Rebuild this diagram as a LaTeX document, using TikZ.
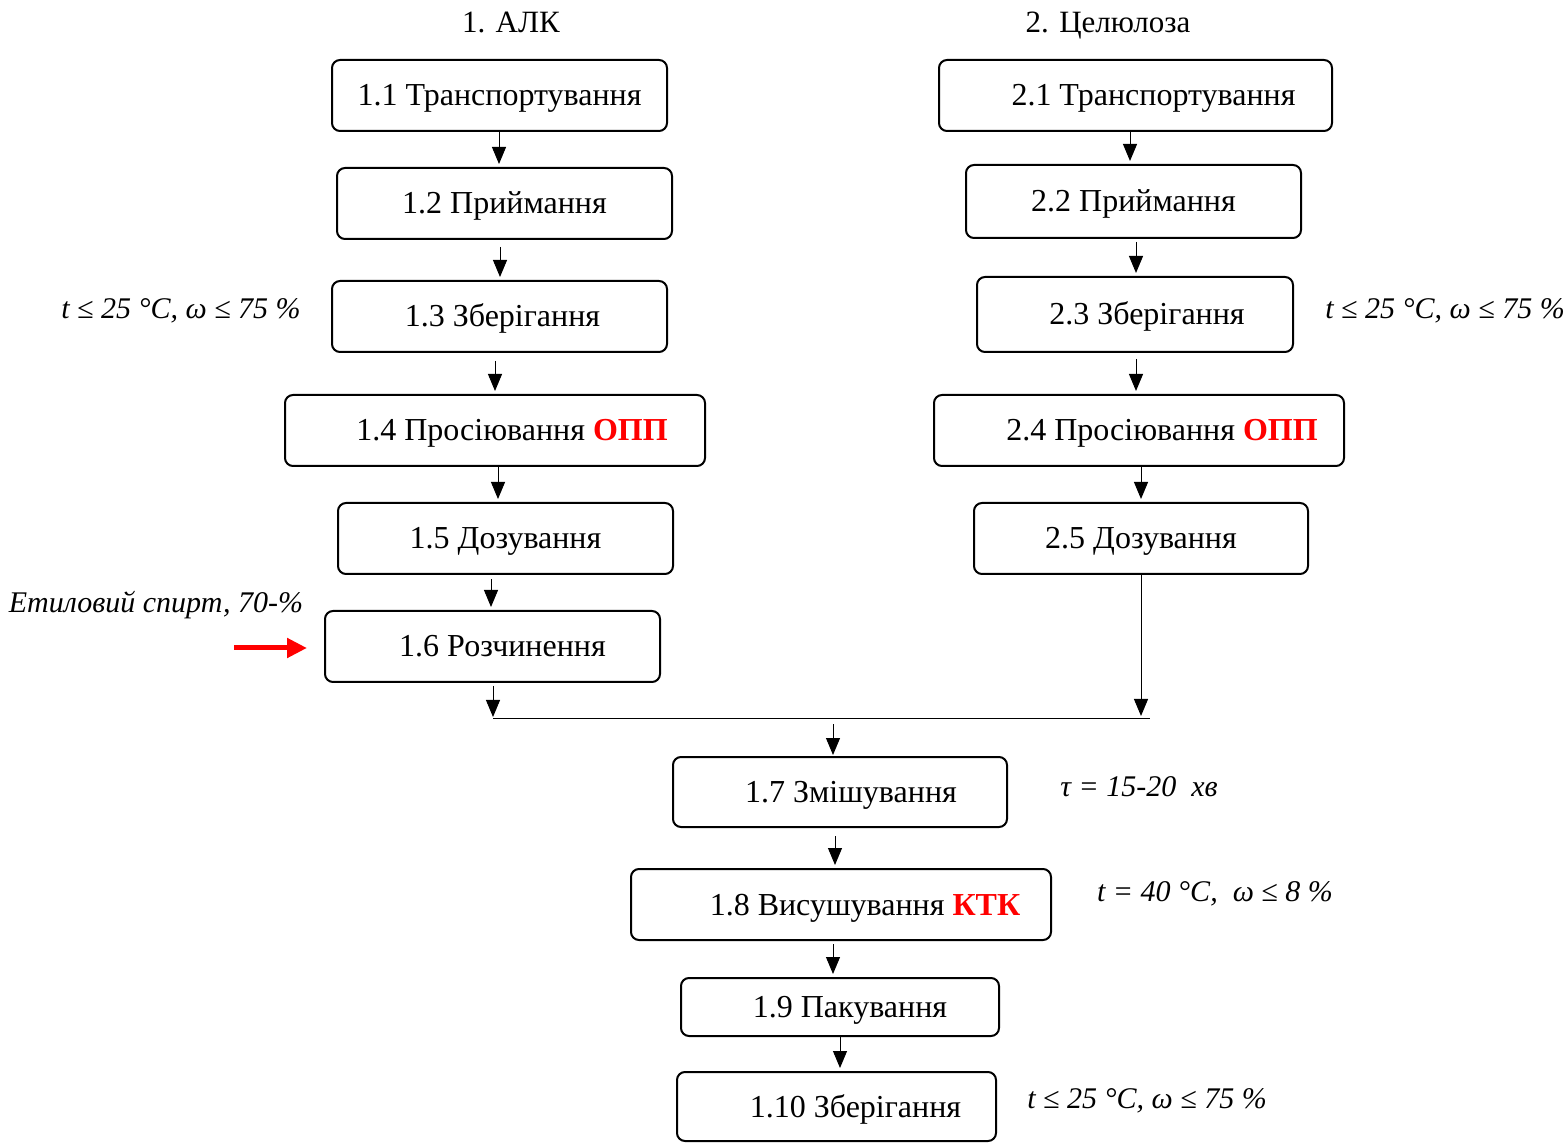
\documentclass[tikz,border=0pt]{standalone}
\usepackage{fontspec}
\setmainfont{Liberation Serif}
\usetikzlibrary{arrows.meta}

\newcommand{\hl}[1]{\textcolor{red}{\textbf{#1}}}

\begin{document}
\begin{tikzpicture}[x=0.5pt,y=-0.5pt]
	\tikzstyle{stepbox}=[draw,line width=1pt,rounded corners=4pt,minimum height=35.5pt,inner sep=0pt,text height=14pt,text depth=3.5pt,font=\fontsize{16}{18}\selectfont]
	\tikzstyle{flow}=[-{Triangle[length=8.5pt,width=7pt]},line width=0.5pt,shorten >=1.5pt]
	\tikzstyle{note}=[font=\fontsize{15}{17}\selectfont\itshape,inner sep=0pt]
	\tikzstyle{head}=[font=\fontsize{15.5}{17}\selectfont,inner sep=0pt,anchor=base]

	\useasboundingbox (0,0) rectangle (1568,1143);

	% column headings
	\node[head](t1) at (511,33){1. АЛК};
	\node[head](t2) at (1108,33){2. Целюлоза};

	% column 1
	\node[stepbox,minimum width=167.5pt](b11) at (499.5,95.5){1.1 Транспортування};
	\node[stepbox,minimum width=167.5pt](b12) at (504.5,203.5){1.2 Приймання};
	\node[stepbox,minimum width=167.5pt](b13) at (499.5,316.5){\hspace*{3pt}1.3 Зберігання};
	\node[stepbox,minimum width=210pt](b14) at (495,430.5){\hspace*{17pt}1.4 Просіювання \hl{ОПП}};
	\node[stepbox,minimum width=167.5pt](b15) at (505.5,538.5){1.5 Дозування};
	\node[stepbox,minimum width=167.5pt](b16) at (492.5,646.5){\hspace*{10pt}1.6 Розчинення};

	% column 2
	\node[stepbox,minimum width=196.5pt](b21) at (1135.5,95.5){\hspace*{18pt}2.1 Транспортування};
	\node[stepbox,minimum width=167.5pt,minimum height=36.5pt](b22) at (1133.5,201.5){2.2 Приймання};
	\node[stepbox,minimum width=158pt,minimum height=37.5pt](b23) at (1135,314.5){\hspace*{12pt}2.3 Зберігання};
	\node[stepbox,minimum width=205pt](b24) at (1139,430.5){\hspace*{23pt}2.4 Просіювання \hl{ОПП}};
	\node[stepbox,minimum width=167pt](b25) at (1141,538.5){2.5 Дозування};

	% common part
	\node[stepbox,minimum width=167pt,minimum height=35pt](b17) at (840,792){\hspace*{11pt}1.7 Змішування};
	\node[stepbox,minimum width=210pt](b18) at (841,904.5){\hspace*{24pt}1.8 Висушування \hl{КТК}};
	\node[stepbox,minimum width=159pt,minimum height=29pt](b19) at (840,1007){\hspace*{10pt}1.9 Пакування};
	\node[stepbox,minimum width=159.5pt,minimum height=34.5pt](b110) at (836.5,1106.5){\hspace*{19pt}1.10 Зберігання};

	% conditions
	\node[note](n13) at (181,311){t ≤ 25 °C, ω ≤ 75 \%};
	\node[note](n23) at (1445,311){t ≤ 25 °C, ω ≤ 75 \%};
	\node[note](n16) at (156,605){Етиловий спирт, 70-\%};
	\node[note](n17) at (1139,787){τ = 15-20\ \ хв};
	\node[note](n18) at (1215,894){t = 40 °C,\ \ ω ≤ 8 \%};
	\node[note](n110) at (1147,1101){t ≤ 25 °C, ω ≤ 75 \%};

	% merge line
	\coordinate (m1) at (493,718);
	\coordinate (m2) at (1150,718);
	\coordinate (m3) at (833,724);
	\coordinate (s16) at (234,648);
	\draw[line width=0.5pt] (m1) -- (m2);

	\draw[flow] (b11.south -| 499,0) -- (b12.north -| 499,0);
	\draw[flow,shorten <=3.5pt] (b12.south -| 500,0) -- (b13.north -| 500,0);
	\draw[flow,shorten <=4pt] (b13.south -| 495,0) -- (b14.north -| 495,0);
	\draw[flow] (b14.south -| 498,0) -- (b15.north -| 498,0);
	\draw[flow,shorten <=2pt] (b15.south -| 491,0) -- (b16.north -| 491,0);
	\draw[flow,shorten <=1.5pt,shorten >=0.5pt] (b16.south -| m1) -- (m1);

	\draw[flow] (b21.south -| 1130,0) -- (b22.north -| 1130,0);
	\draw[flow,shorten <=1.5pt] (b22.south -| 1136,0) -- (b23.north -| 1136,0);
	\draw[flow,shorten <=3pt] (b23.south -| 1136,0) -- (b24.north -| 1136,0);
	\draw[flow] (b24.south -| 1141,0) -- (b25.north -| 1141,0);
	\draw[flow,shorten >=1pt] (b25.south) -- (b25.south |- m1);

	\draw[flow,shorten >=0.5pt] (m3) -- (b17.north -| m3);
	\draw[flow,shorten <=4pt] (b17.south -| 835,0) -- (b18.north -| 835,0);
	\draw[flow,shorten <=1.5pt] (b18.south -| 833,0) -- (b19.north -| 833,0);
	\draw[flow] (b19.south -| 840,0) -- (b110.north -| 840,0);

	% solvent input
	\draw[-{Triangle[length=10pt,width=9.5pt]},line width=2.5pt,red,shorten >=8.5pt] (s16) -- (b16.west |- s16);

\end{tikzpicture}
\end{document}
